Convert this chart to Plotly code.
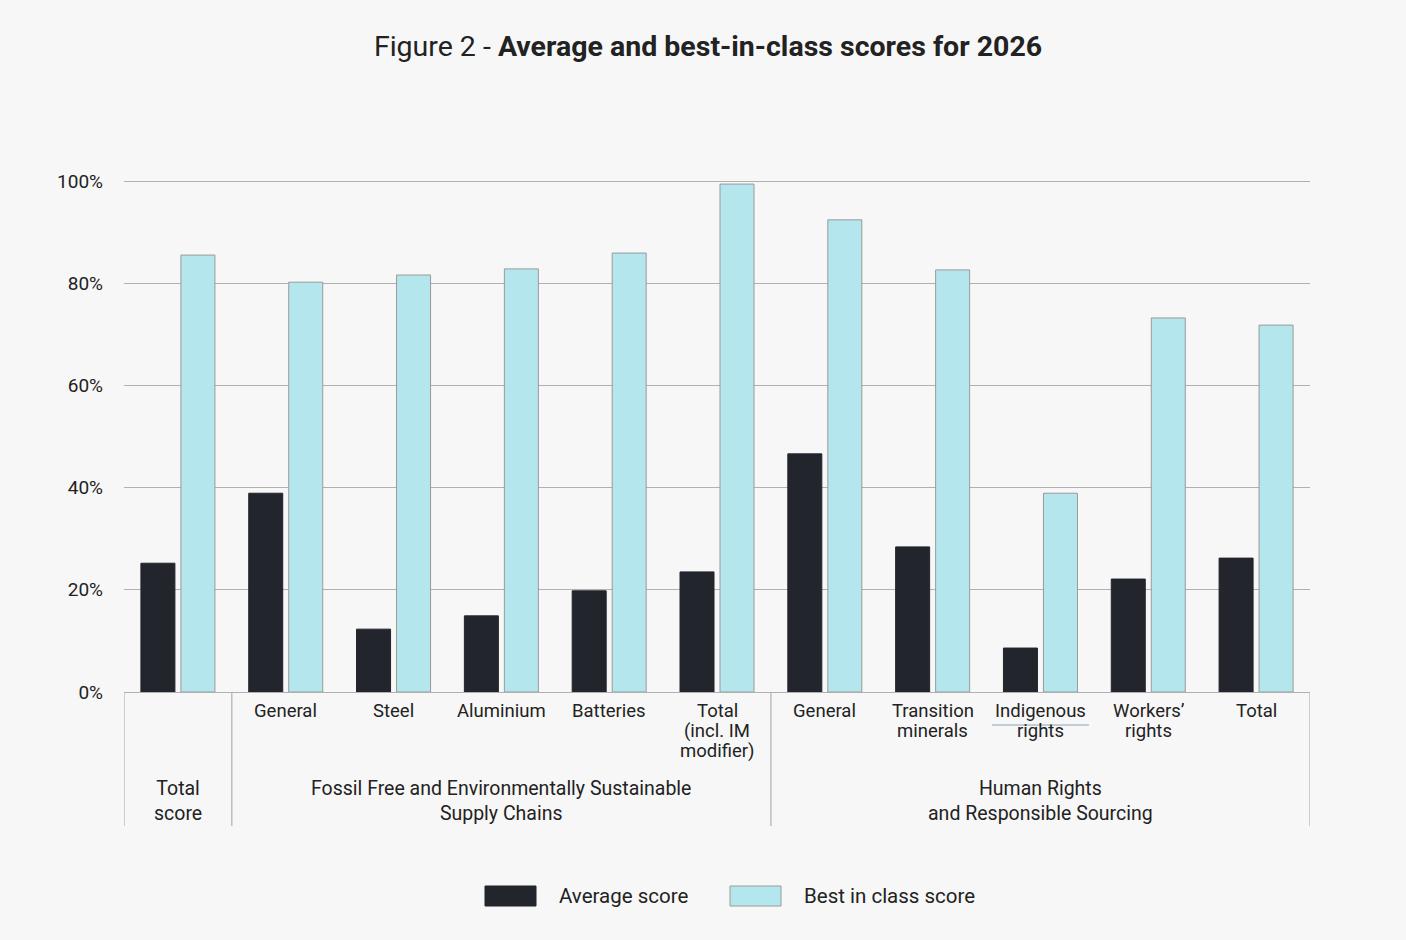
import plotly.graph_objects as go

categories = ["Total<br>score", "General", "Steel", "Aluminium", "Batteries",
              "Total<br>(incl. IM<br>modifier)", "General", "Transition<br>minerals",
              "Indigenous<br>rights", "Workers’<br>rights", "Total"]
average_score = [25.2, 38.9, 12.3, 14.9, 19.8, 23.5, 46.6, 28.4, 8.6, 22.1, 26.2]
best_in_class = [85.5, 80.2, 81.6, 82.8, 85.9, 99.4, 92.4, 82.6, 38.9, 73.2, 71.8]
group_labels = ["Total<br>score",
                "Fossil Free and Environmentally Sustainable<br>Supply Chains",
                "Human Rights<br>and Responsible Sourcing"]
group_spans = [(0, 0), (1, 5), (6, 10)]
y_ticks = [0, 20, 40, 60, 80, 100]
y_tick_labels = ["0%", "20%", "40%", "60%", "80%", "100%"]

DARK = "#22252c"
LIGHT = "#b4e6ed"
TEXT = "#222222"
GRID = "#b0b0b0"
FONT = "Roboto"

TOP = 178
PLOT_H = 692 - TOP
Y_MAX = PLOT_H / 5.11

x = list(range(len(categories)))
tick_labels = ["" if i == 0 else c for i, c in enumerate(categories)]

fig = go.Figure()
fig.add_trace(go.Bar(x=x, y=average_score, name="Average score",
                     marker=dict(color=DARK, line=dict(color=DARK, width=1))))
fig.add_trace(go.Bar(x=x, y=best_in_class, name="Best in class score",
                     marker=dict(color=LIGHT, line=dict(color="#9a9a9a", width=1))))

def px_x(p):
    return (p - 124) / 1186
def px_y(p):
    return (692 - p) / PLOT_H

shapes = []
annotations = []
for i, lab in enumerate(tick_labels):
    if not lab:
        continue
    for j, line in enumerate(lab.split("<br>")):
        annotations.append(dict(x=i, xref="x", y=px_y(711 + j * 20), yref="paper",
                                text=line, showarrow=False, xanchor="center", yanchor="middle",
                                font=dict(family=FONT, size=18.5, color=TEXT)))
for (a, b), lab in zip(group_spans, group_labels):
    annotations.append(dict(x=(a + b) / 2, xref="x", y=px_y(800.5), yref="paper",
                            text=lab, showarrow=False, xanchor="center", yanchor="middle",
                            font=dict(family=FONT, size=19.5, color=TEXT)))
bounds = [-0.5] + [b + 0.5 for (_, b) in group_spans]
for bx in bounds:
    shapes.append(dict(type="line", xref="x", yref="paper", x0=bx, x1=bx,
                       y0=0, y1=px_y(826), line=dict(color=GRID, width=1.2)))
shapes.append(dict(type="line", xref="x", yref="paper", x0=8 - 0.45, x1=8 + 0.45,
                   y0=px_y(725), y1=px_y(725),
                   line=dict(color="#8aa4b8", width=1)))

legend_items = [("Average score", DARK, DARK, 485, 557),
                ("Best in class score", LIGHT, "#9a9a9a", 730, 802)]
for name, fillc, linec, sx, tx in legend_items:
    shapes.append(dict(type="rect", xref="paper", yref="paper",
                       x0=px_x(sx), x1=px_x(sx + 51), y0=px_y(886), y1=px_y(906),
                       fillcolor=fillc, line=dict(color=linec, width=1)))
    annotations.append(dict(x=px_x(tx), xref="paper", y=px_y(896), yref="paper",
                            text=name, showarrow=False, xanchor="left", yanchor="middle",
                            font=dict(family=FONT, size=20.5, color=TEXT)))

fig.update_layout(
    width=1406, height=940,
    paper_bgcolor="#f7f7f7", plot_bgcolor="#f7f7f7",
    margin=dict(l=124, r=96, t=TOP, b=248, autoexpand=False),
    barmode="group", bargap=0.258, bargroupgap=0.15,
    showlegend=False,
    title=dict(text="Figure 2 - <b>Average and best-in-class scores for 2026</b>",
               x=708 / 1406, xanchor="center", y=1 - 46 / 940, yanchor="middle",
               xref="container", yref="container",
               font=dict(family=FONT, size=28.5, color=TEXT)),
    xaxis=dict(range=[-0.5, 10.5], tickvals=x, ticktext=[""] * len(x),
               showgrid=False, zeroline=False, showline=False, ticks="", fixedrange=True),
    yaxis=dict(range=[0, Y_MAX], tickmode="array", tickvals=y_ticks, ticktext=y_tick_labels,
               showgrid=True, gridcolor=GRID, gridwidth=1,
               zeroline=True, zerolinecolor=GRID, zerolinewidth=1.2,
               showline=False, ticks="", ticklabelstandoff=20, fixedrange=True,
               tickfont=dict(family=FONT, size=19, color=TEXT)),
    shapes=shapes, annotations=annotations,
)

fig.write_html("out.html", config={"displayModeBar": False},
               post_script="document.body.style.margin='0';document.body.style.background='#f7f7f7';")
